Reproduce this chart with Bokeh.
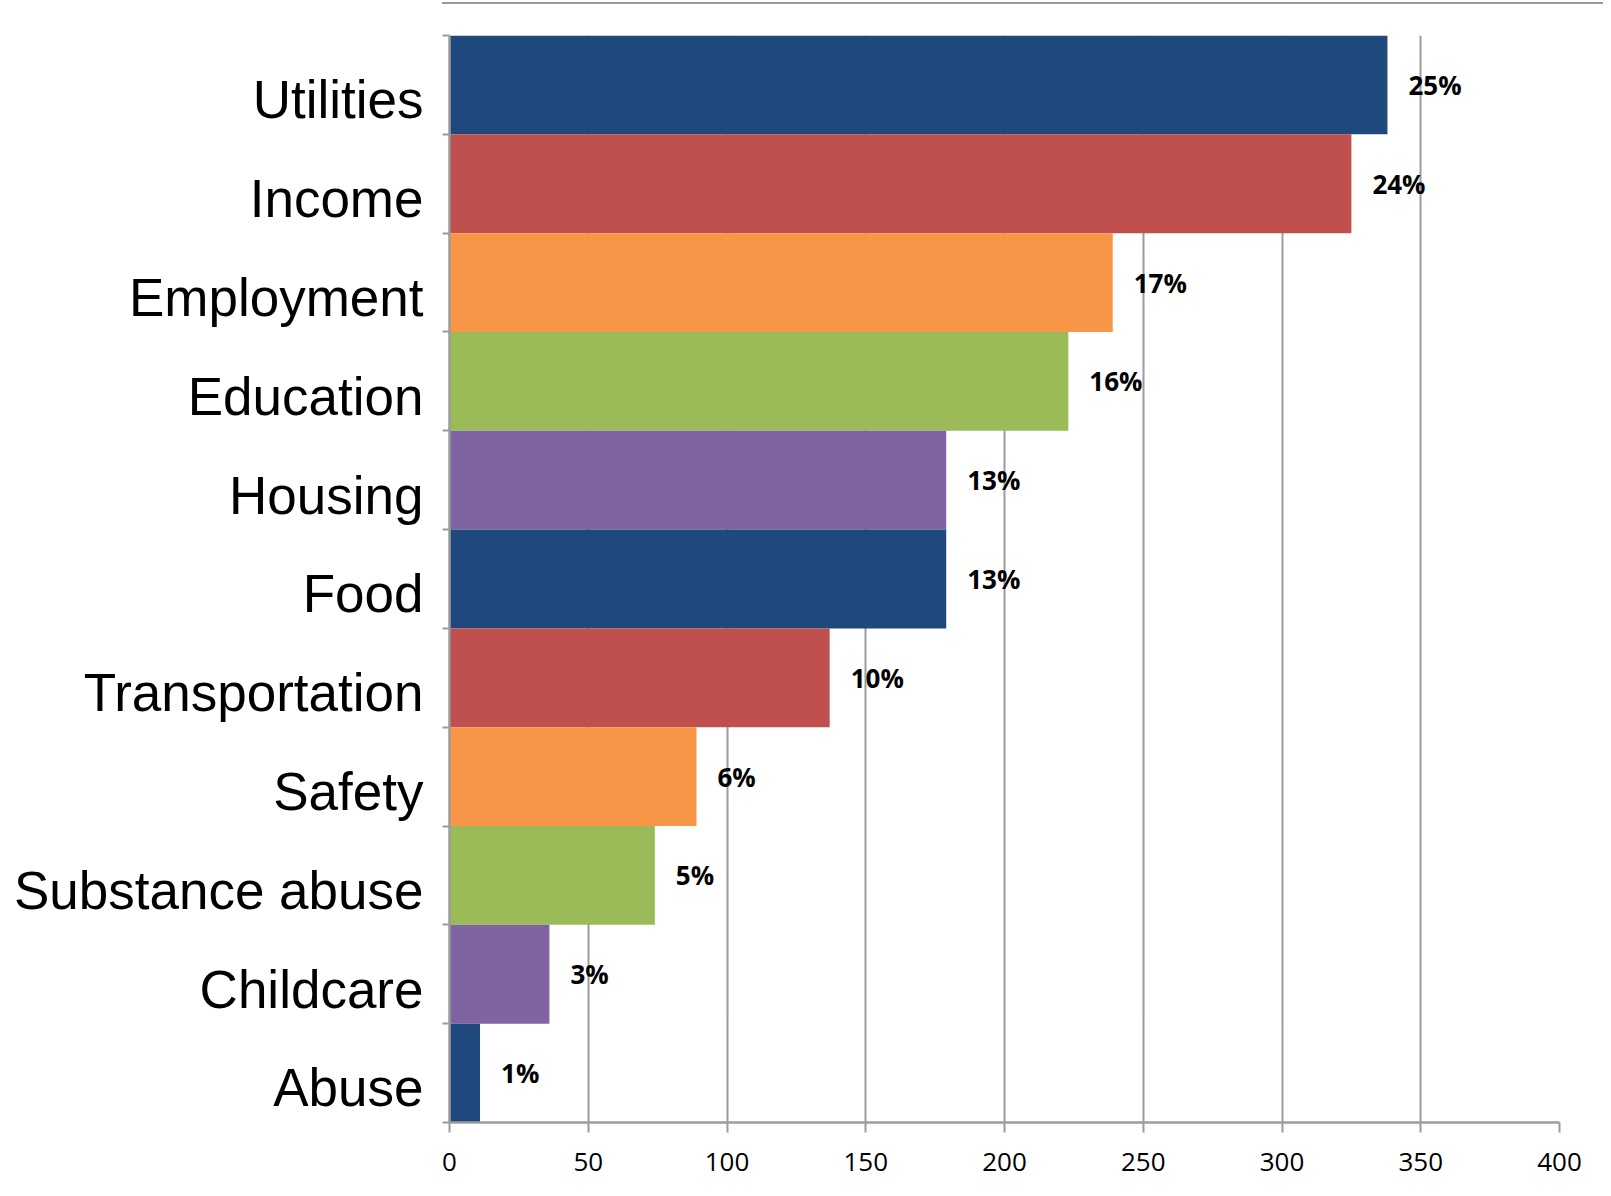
from bokeh.plotting import figure
from bokeh.models import Range1d, FixedTicker, ColumnDataSource, Div
from bokeh.layouts import column
from bokeh.embed import file_html
from bokeh.resources import INLINE
from bokeh.core.properties import value

# ---- data (top to bottom) ----
categories = ["Utilities", "Income", "Employment", "Education", "Housing", "Food",
              "Transportation", "Safety", "Substance abuse", "Childcare", "Abuse"]
counts = [338, 325, 239, 223, 179, 179, 137, 89, 74, 36, 11]
pct_labels = ["25%", "24%", "17%", "16%", "13%", "13%", "10%", "6%", "5%", "3%", "1%"]
palette = ["#1F497D", "#C0504D", "#F79646", "#9BBB59", "#8064A2"]
x_ticks = [0, 50, 100, 150, 200, 250, 300, 350, 400]

n = len(categories)
ypos = [n - 0.5 - i for i in range(n)]
bar_colors = [palette[i % len(palette)] for i in range(n)]
# category labels sit slightly below the band centres in the original
label_pos = [y - 0.15 for y in ypos]

src = ColumnDataSource(dict(cat=categories, count=counts, pct=pct_labels,
                            y=ypos, color=bar_colors))

p = figure(width=1595, height=1178,
           x_range=Range1d(0, 400), y_range=Range1d(0, n),
           output_backend="svg", toolbar_location=None,
           min_border_left=449, min_border_right=36,
           min_border_top=31, min_border_bottom=60)
p.outline_line_color = None
p.background_fill_color = "white"
p.border_fill_color = "white"

p.hbar(y="y", right="count", left=0, height=1.0, color="color",
       line_color=None, source=src)

p.text(x="count", y="y", text="pct", source=src, x_offset=21,
       text_font=value("Open Sans"), text_font_style="bold",
       text_font_size="26px", text_baseline="middle", text_align="left",
       text_color="#000000")

# grid
p.ygrid.grid_line_color = None
p.xgrid.ticker = FixedTicker(ticks=x_ticks)
p.xgrid.grid_line_color = "#9c9c9c"
p.xgrid.grid_line_width = 2

# x axis
xa = p.xaxis[0]
xa.ticker = FixedTicker(ticks=x_ticks)
xa.axis_line_color = "#9c9c9c"
xa.axis_line_width = 2.5
xa.major_tick_line_color = "#9c9c9c"
xa.major_tick_line_width = 2
xa.major_tick_in = 0
xa.major_tick_out = 10
xa.minor_tick_line_color = None
xa.major_label_text_font = "Open Sans"
xa.major_label_text_font_size = "26px"
xa.major_label_text_color = "#000000"
xa.major_label_standoff = 20

# y axis
ya = p.yaxis[0]
ya.ticker = FixedTicker(ticks=label_pos, minor_ticks=list(range(n + 1)))
ya.major_label_overrides = {y: c for y, c in zip(label_pos, categories)}
ya.axis_line_color = "#9c9c9c"
ya.axis_line_width = 2.5
ya.major_tick_line_color = None
ya.major_tick_in = 0
ya.major_tick_out = 0
ya.minor_tick_line_color = "#9c9c9c"
ya.minor_tick_line_width = 2
ya.minor_tick_in = 0
ya.minor_tick_out = 7
ya.major_label_text_font = "Liberation Sans"
ya.major_label_text_font_size = "53px"
ya.major_label_text_color = "#000000"
ya.major_label_standoff = 19

top_line = Div(text="", width=1161, height=2, margin=(2, 0, 0, 442),
               styles={"background-color": "#999999"})

layout = column(top_line, p, spacing=0)

open("out.html", "w").write(file_html(layout, INLINE))
